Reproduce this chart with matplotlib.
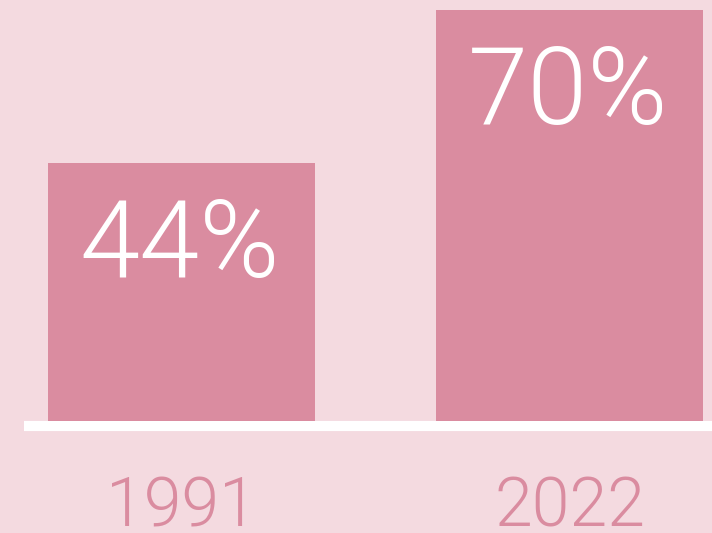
from matplotlib import pyplot as plt

# data
years = ['1991', '2022']
share = [44, 70]

bg = '#F4DAE0'
bar_color = '#DA8CA0'

fig = plt.figure(figsize=(7.12, 5.33), dpi=100, facecolor=bg)
# axes fills from baseline start to right edge, bottom at the baseline
ax = fig.add_axes([24 / 712, 112 / 533, 688 / 712, 421 / 533])
ax.set_facecolor(bg)

x = list(range(len(years)))
ax.bar(x, share, width=0.688, color=bar_color, zorder=2)

ax.set_xlim(-0.406, 1.367)
ax.set_ylim(0, 71.7)
ax.axis('off')

# white baseline just under the bars
ax.axhline(-0.85, color='white', linewidth=7.3, clip_on=False, zorder=1,
           solid_capstyle='butt')

for xi, v, yr in zip(x, share, years):
    ax.text(xi - 0.005, v - 19.5, f'{v}%', ha='center', va='baseline',
            color='white', fontsize=78, family='Roboto', fontweight=300)
    ax.text(xi, -18.0, yr, ha='center', va='baseline', clip_on=False,
            color=bar_color, fontsize=49, family='Roboto', fontweight=300)

fig.savefig('out.png', dpi=100, facecolor=bg)
